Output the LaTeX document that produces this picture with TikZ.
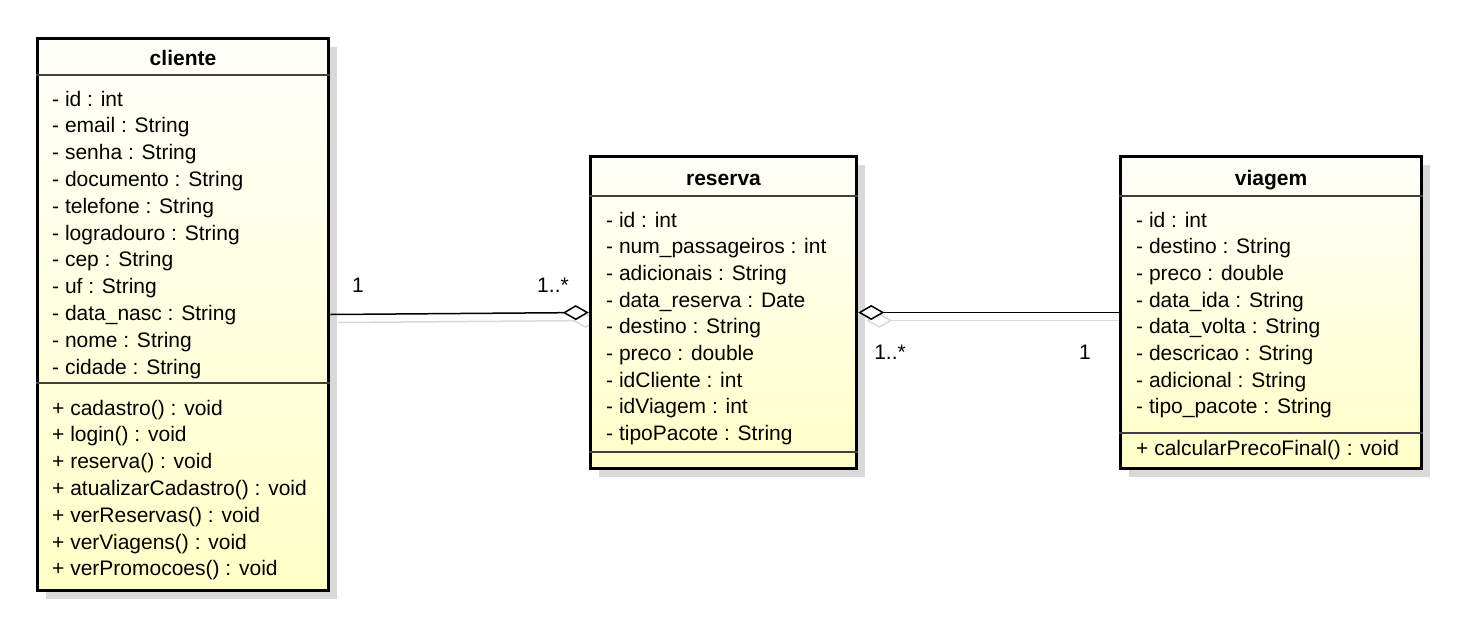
\documentclass[tikz,border=0pt]{standalone}
\usepackage{fontspec}
\setmainfont{Liberation Sans}
\usetikzlibrary{arrows.meta,shadows,backgrounds}
\begin{document}
\begin{tikzpicture}[x=1pt, y=-1pt,
    classbox/.style={draw, line width=3.5pt, top color=yellow!2, bottom color=yellow!22, inner sep=0pt,
        drop shadow={shadow xshift=8pt, shadow yshift=-8pt, fill=black!15, opacity=1}},
    attr/.style={anchor=base west, inner sep=0pt, font=\fontsize{21}{25}\selectfont},
    title/.style={font=\fontsize{21}{25}\selectfont\bfseries},
    divider/.style={line width=1.5pt, black!75},
    assoc/.style={line width=1.5pt},
    mult/.style={font=\fontsize{21}{25}\selectfont}]
    \useasboundingbox (0,0) rectangle (1466,643);

    % classes
    \node (cliente) [classbox, minimum width=291pt, minimum height=552pt] at (183,314.5) {};
    \node (reserva) [classbox, minimum width=266pt, minimum height=312pt] at (723.5,312.5) {};
    \node (viagem) [classbox, minimum width=301pt, minimum height=312pt] at (1271,312.5) {};

    \node (cliente-t) [title] at (183,58) {cliente};
    \node (reserva-t) [title] at (723.5,180) {reserva};
    \node (viagem-t) [title] at (1271,180) {viagem};

    \draw[divider] (cliente.west |- 0,75) -- (cliente.east |- 0,75);
    \draw[divider] (cliente.west |- 0,383) -- (cliente.east |- 0,383);
    \draw[divider] (reserva.west |- 0,196) -- (reserva.east |- 0,196);
    \draw[divider] (reserva.west |- 0,452) -- (reserva.east |- 0,452);
    \draw[divider] (viagem.west |- 0,196) -- (viagem.east |- 0,196);
    \draw[divider] (viagem.west |- 0,433) -- (viagem.east |- 0,433);

    \foreach \txt [count=\i from 0] in {- id : int, - email : String, - senha : String, - documento : String,
        - telefone : String, - logradouro : String, - cep : String, - uf : String,
        - data\_nasc : String, - nome : String, - cidade : String}
        \node (cliente-a\i) [attr] at (52,{106+26.8*\i}) {\txt};
    \foreach \txt [count=\i from 0] in {+ cadastro() : void, + login() : void, + reserva() : void,
        + atualizarCadastro() : void, + verReservas() : void, + verViagens() : void, + verPromocoes() : void}
        \node (cliente-m\i) [attr] at (52,{415+26.8*\i}) {\txt};

    \foreach \txt [count=\i from 0] in {- id : int, - num\_passageiros : int, - adicionais : String,
        - data\_reserva : Date, - destino : String, - preco : double, - idCliente : int,
        - idViagem : int, - tipoPacote : String}
        \node (reserva-a\i) [attr] at (606,{227+26.7*\i}) {\txt};

    \foreach \txt [count=\i from 0] in {- id : int, - destino : String, - preco : double, - data\_ida : String,
        - data\_volta : String, - descricao : String, - adicional : String, - tipo\_pacote : String}
        \node (viagem-a\i) [attr] at (1136,{227+26.7*\i}) {\txt};
    \node (viagem-m0) [attr] at (1136,455) {+ calcularPrecoFinal() : void};

    % associations
    \begin{scope}[on background layer]
        \draw[assoc, black!15, -{Diamond[open, length=26pt, width=15pt]}]
            ([xshift=8pt, yshift=-8pt]cliente.east) -- ([xshift=10pt, yshift=-8pt]reserva.west);
        \draw[assoc, black!15, {Diamond[open, length=26pt, width=15pt]}-]
            ([xshift=8pt, yshift=-8pt]reserva.east) -- ([xshift=10pt, yshift=-8pt]viagem.west);
    \end{scope}
    \draw[assoc, -{Diamond[length=26pt, width=15pt, fill=white]}] (cliente.east) -- (reserva.west);
    \draw[assoc, {Diamond[length=26pt, width=15pt, fill=white]}-] (reserva.east) -- (viagem.west);

    \node (cliente-mult) [mult] at (358,285) {1};
    \node (reserva-mult-l) [mult] at (553,285) {1..*};
    \node (reserva-mult-r) [mult] at (890,352) {1..*};
    \node (viagem-mult) [mult] at (1085,352) {1};
\end{tikzpicture}
\end{document}
